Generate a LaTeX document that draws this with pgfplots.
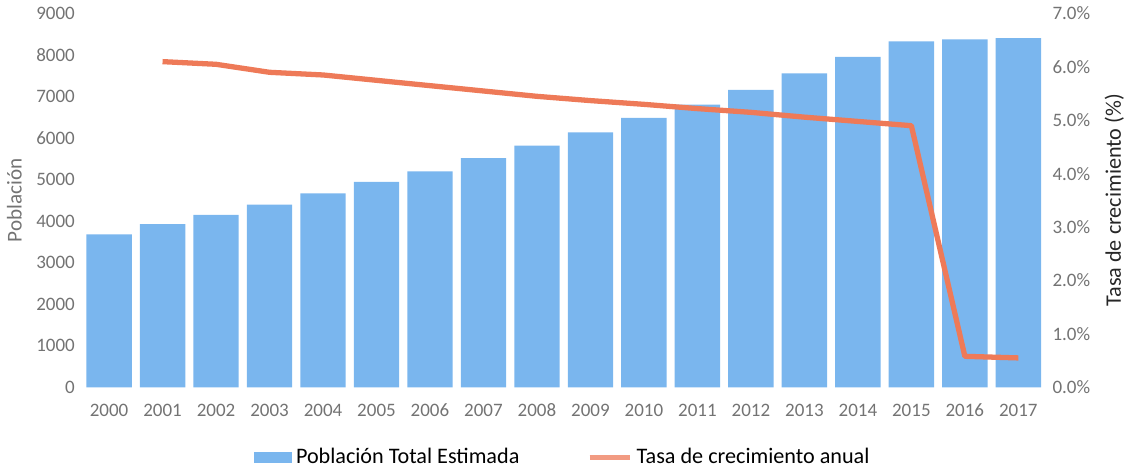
\documentclass[border=0pt]{standalone}
\usepackage{pgfplots}
\pgfplotsset{compat=1.18}
\usepackage{fontspec}
\setmainfont{Carlito}
\definecolor{barblue}{RGB}{122,182,238}
\definecolor{rateorange}{RGB}{238,122,88}
\definecolor{ticgray}{RGB}{115,115,115}

\begin{document}
\begin{tikzpicture}
\pgfplotsset{
    every axis/.append style={
        scale only axis,
        width=456pt, height=177pt,
        xmin=-0.5, xmax=17.5,
        /pgf/number format/assume math mode=true,
        /pgf/number format/1000 sep={},
        tick style={draw=none},
        ticklabel style={font=\fontsize{9}{10}\selectfont, text=ticgray},
    },
}
\begin{axis}[
    axis y line*=left,
    axis x line*=bottom,
    axis line style={draw=none},
    ymin=0, ymax=9000,
    ytick={0,1000,...,9000},
    xtick={0,...,17},
    xticklabels={2000,2001,2002,2003,2004,2005,2006,2007,2008,2009,2010,2011,2012,2013,2014,2015,2016,2017},
    ylabel={Población},
    ylabel style={font=\fontsize{10}{12}\selectfont, text=ticgray},
    ybar, bar width=21.5pt,
    legend style={at={(0.5,-0.14)}, anchor=north, draw=none,
        legend columns=2, font=\fontsize{10.5}{12}\selectfont,
        /tikz/every even column/.append style={column sep=30pt}},
]
\addplot[fill=barblue, draw=none,
    legend image code/.code={\fill[barblue] (0pt,-2.5pt) rectangle (18pt,2.5pt);}]
    coordinates {
    (0,3680) (1,3930) (2,4150) (3,4400) (4,4670) (5,4950)
    (6,5200) (7,5520) (8,5820) (9,6140) (10,6490) (11,6810)
    (12,7160) (13,7560) (14,7960) (15,8330) (16,8380) (17,8410)
    };
\addlegendentry{Población Total Estimada}
\addlegendimage{legend image code/.code={\draw[rateorange!75, line width=2.5pt] (0pt,0pt) -- (19pt,0pt);}}
\addlegendentry{Tasa de crecimiento anual}
\end{axis}
\begin{axis}[
    axis y line*=right,
    axis x line=none,
    axis line style={draw=none},
    ymin=0, ymax=7,
    ytick={0,1,...,7},
    yticklabel={\pgfmathprintnumber[fixed,fixed zerofill,precision=1]{\tick}\%},
    ylabel={Tasa de crecimiento (\%)},
    ylabel style={font=\fontsize{10.5}{12}\selectfont, text=black!85},
]
\addplot[rateorange, line width=2.5pt, line join=round]
    coordinates {
    (1,6.1) (2,6.05) (3,5.9) (4,5.85) (5,5.75) (6,5.65) (7,5.55)
    (8,5.45) (9,5.37) (10,5.3) (11,5.22) (12,5.15) (13,5.06)
    (14,4.98) (15,4.9) (16,0.58) (17,0.55)
    };
\end{axis}
\end{tikzpicture}
\end{document}
